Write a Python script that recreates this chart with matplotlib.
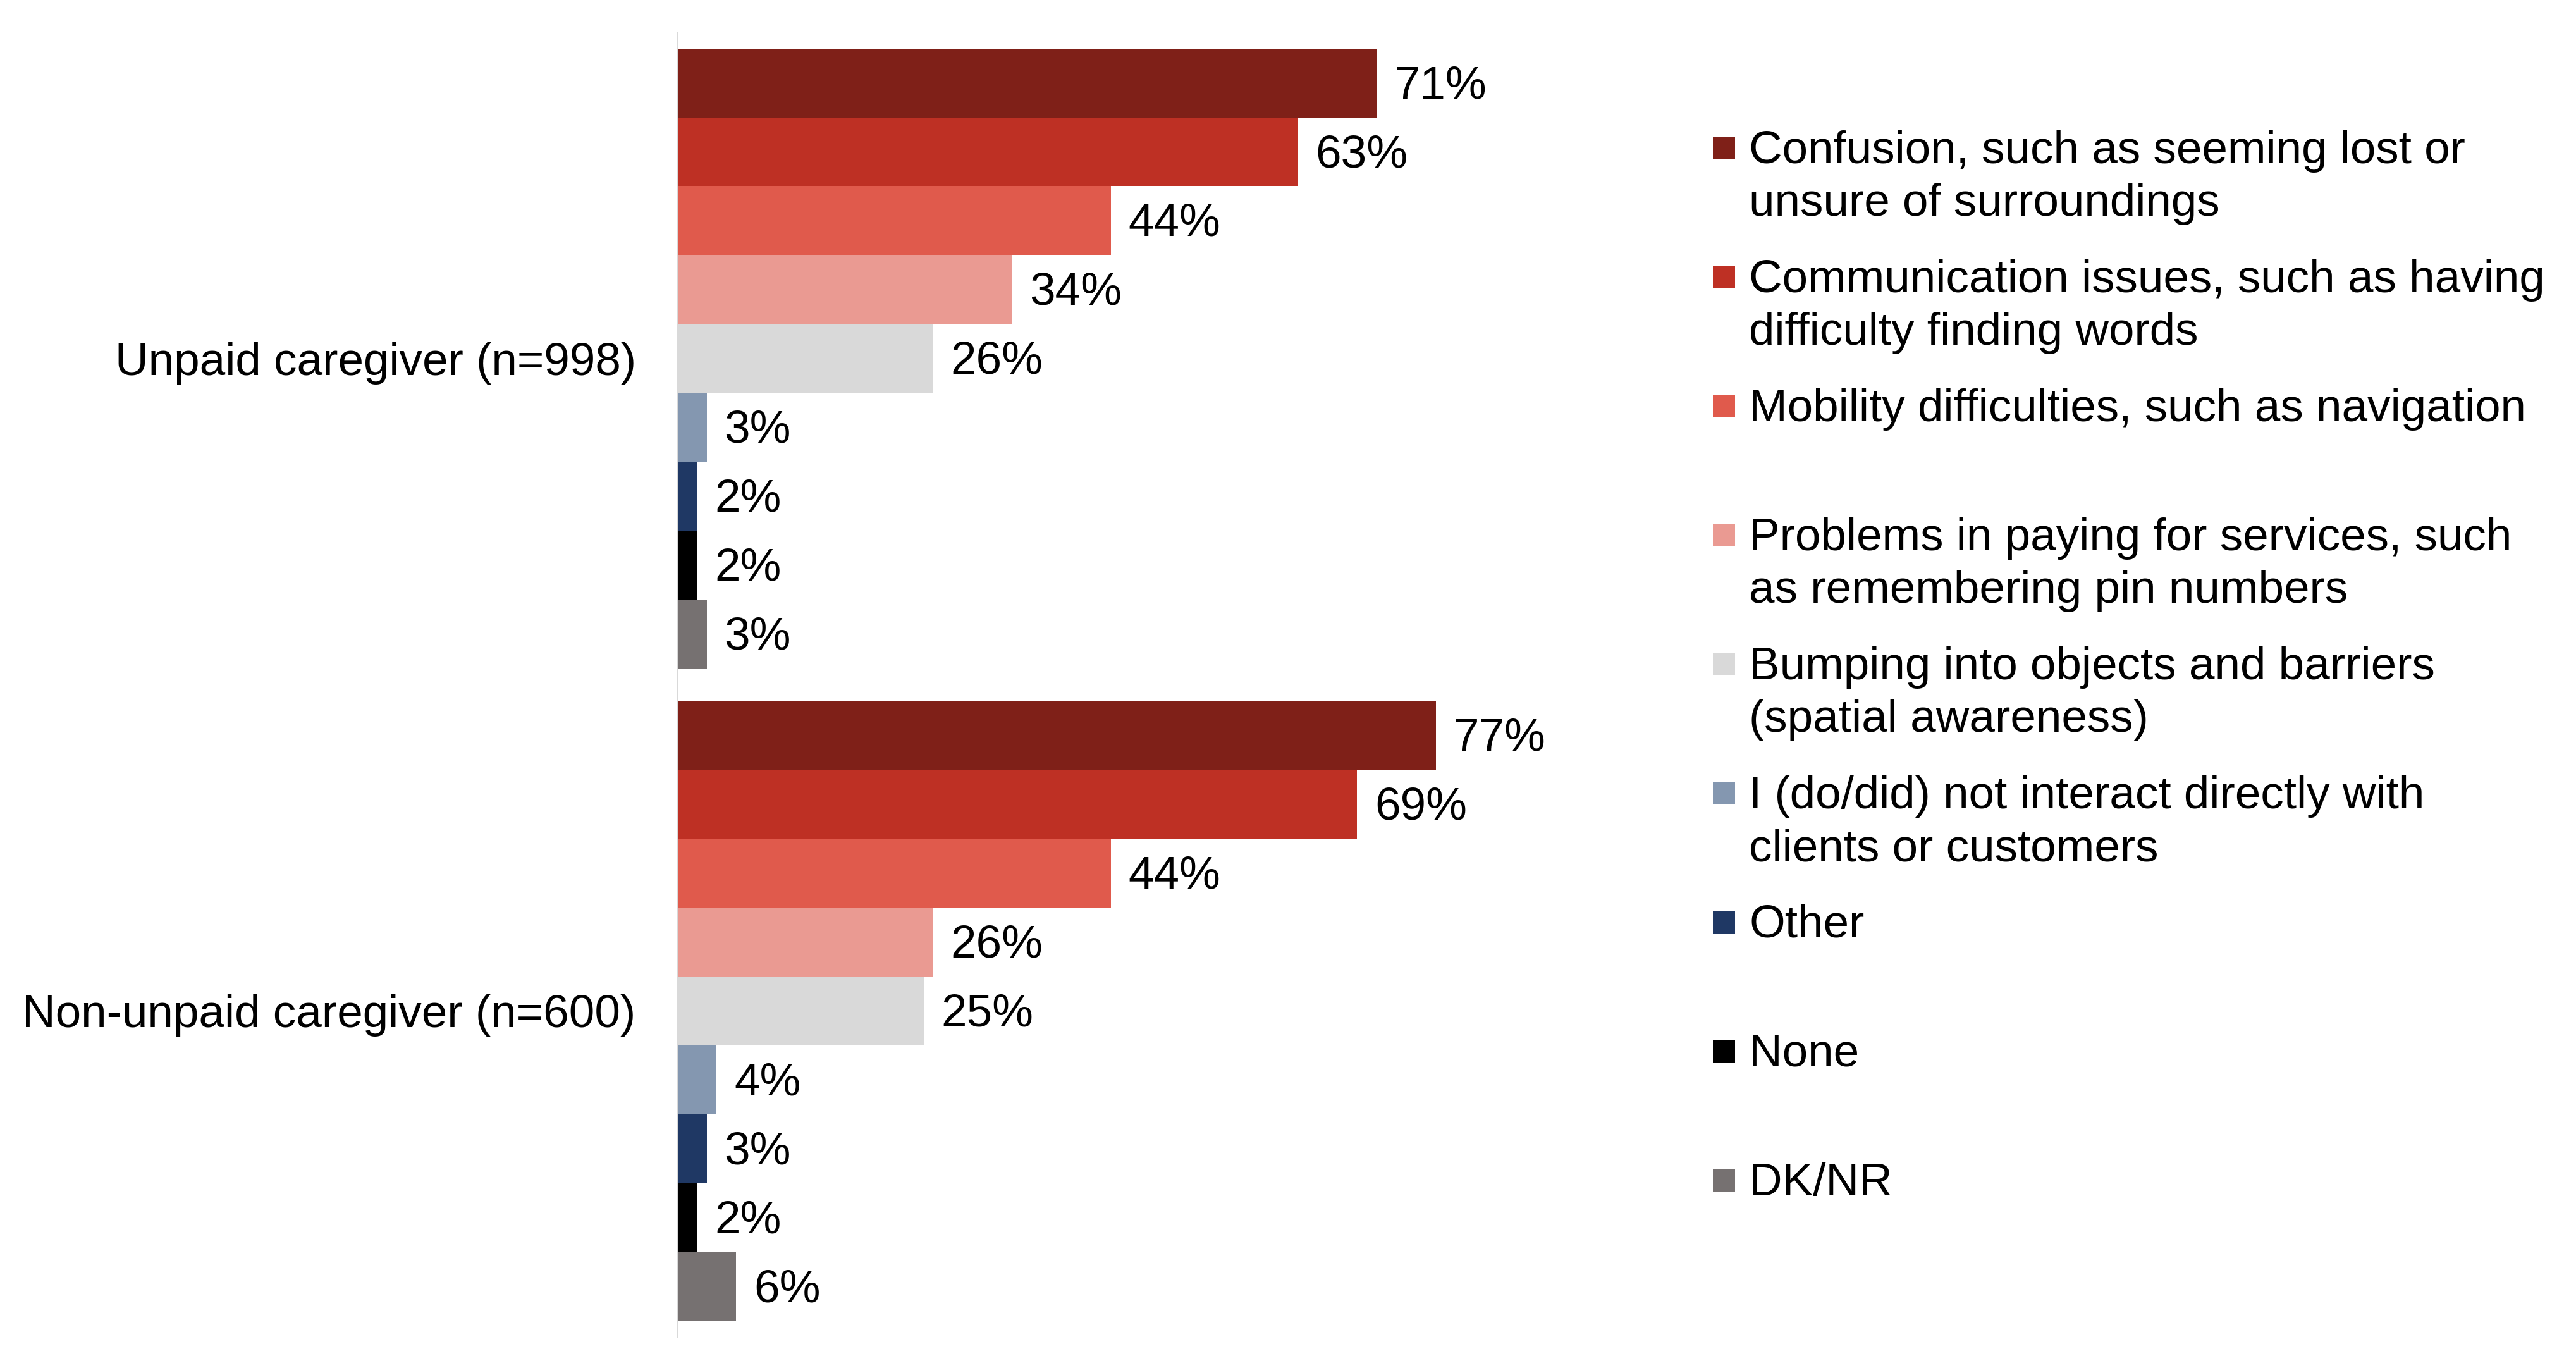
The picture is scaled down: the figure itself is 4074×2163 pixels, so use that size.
import matplotlib
matplotlib.use("Agg")
import matplotlib.pyplot as plt
from matplotlib.patches import Rectangle
import numpy as np

plt.rcParams['font.family'] = ['Liberation Sans', 'DejaVu Sans']

categories = ["Unpaid caregiver (n=998)", "Non-unpaid caregiver (n=600)"]
series = [
    "Confusion, such as seeming lost or\nunsure of surroundings",
    "Communication issues, such as having\ndifficulty finding words",
    "Mobility difficulties, such as navigation",
    "Problems in paying for services, such\nas remembering pin numbers",
    "Bumping into objects and barriers\n(spatial awareness)",
    "I (do/did) not interact directly with\nclients or customers",
    "Other",
    "None",
    "DK/NR",
]
unpaid = [71, 63, 44, 34, 26, 3, 2, 2, 3]
non_unpaid = [77, 69, 44, 26, 25, 4, 3, 2, 6]
colors = ["#7F2018", "#BE3024", "#E05A4C", "#EA9A92", "#D9D9D9",
          "#8497B0", "#1F3864", "#000000", "#767171"]

values = np.array([unpaid, non_unpaid])  # shape (cats, series)

W, H = 4074, 2163
fig = plt.figure(figsize=(W / 100, H / 100), dpi=100)
ax = fig.add_axes([1071 / W, 1 - 2114 / H, (2629 - 1071) / W, (2114 - 51) / H])

FS = 52.5
n = len(series)
h = 0.1056
y0 = np.arange(len(categories))
for i in range(n):
    ys = y0 + (i - (n - 1) / 2) * h
    bars = ax.barh(ys, values[:, i], height=h, color=colors[i], linewidth=0)
    anns = ax.bar_label(bars, labels=[f"{v}%" for v in values[:, i]], padding=20,
                        fontsize=FS, color="black")
    for a in anns:
        a.xyann = (20, -4)

ax.set_xlim(0, 100)
ax.set_ylim(1.5, -0.5)
ax.set_yticks(y0)
ax.set_yticklabels(categories, fontsize=FS)
ax.tick_params(axis='y', length=0, pad=47)
ax.set_xticks([])
for s in ["top", "right", "bottom"]:
    ax.spines[s].set_visible(False)
ax.spines["left"].set_color("#D9D9D9")
ax.spines["left"].set_linewidth(1.8)

# legend drawn as rows with marker aligned to first text line
row0 = 234
step = 204
sq = 35
pitch = 83
for i, (lab, c) in enumerate(zip(series, colors)):
    yc = row0 + i * step
    nlines = lab.count("\n") + 1
    fig.patches.append(Rectangle((2709 / W, 1 - (yc + sq / 2) / H), sq / W, sq / H,
                                 transform=fig.transFigure, facecolor=c,
                                 edgecolor="none"))
    fig.text(2766 / W, 1 - (yc + 24 + (nlines - 1) * pitch) / H, lab,
             fontsize=FS, va="baseline", ha="left", linespacing=1.3)

fig.savefig("out.png", dpi=100, facecolor="white")
